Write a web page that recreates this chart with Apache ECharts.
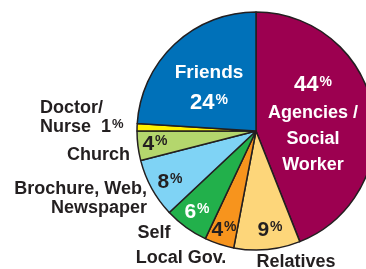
<!DOCTYPE html>
<html><head><meta charset="utf-8">
<script src="https://cdn.jsdelivr.net/npm/echarts@6/dist/echarts.min.js"></script>
<style>html,body{margin:0;padding:0;background:#fff}#c{width:366px;height:269px}</style>
</head><body><div id="c"></div>
<script>
const categories = ['Agencies / Social Worker','Relatives','Local Gov.','Self','Brochure, Web, Newspaper','Church','Doctor/ Nurse','Friends'];
const values = [44, 9, 4, 6, 8, 4, 1, 24];
const colors = ['#9c0050','#fdd67a','#f7941d','#22b04b','#7fd3f5','#b4d66d','#fff200','#0071b9'];
const innerTextColors = ['#fff','#231f20','#231f20','#fff','#231f20','#231f20','#231f20','#fff'];

const FONT = '"Liberation Sans", Arial, sans-serif';
const dark = '#231f20';

// inner label anchor (center) positions
const innerPos = [[313,124],[270,230],[224,230],[197,212],[170,182],[155,144],null,[209,88]];
// outer label anchors
const outerPos = [null,[296,262,'center'],[181,258,'center'],[154,233,'center'],[147,199,'right'],[130,155,'right'],[40,118,'left'],null];

function pctRich(color){
  return {
    n:{fontSize:21,fontWeight:'bold',color:color,fontFamily:FONT,lineHeight:26},
    p:{fontSize:14,fontWeight:'bold',color:color,fontFamily:FONT,padding:[0,0,5,1]},
    N:{fontSize:22,fontWeight:'bold',color:color,fontFamily:FONT,lineHeight:30},
    P:{fontSize:14,fontWeight:'bold',color:color,fontFamily:FONT,padding:[0,0,6,1]},
    w:{fontSize:18,fontWeight:'bold',color:color,fontFamily:FONT,lineHeight:26},
    f:{fontSize:19,fontWeight:'bold',color:color,fontFamily:FONT,lineHeight:30}
  };
}

const innerData = values.map((v,i)=>{
  let fmt;
  if (i===0) fmt = '{N|'+v+'}{P|%}\n{w|Agencies /}\n{w|Social}\n{w|Worker}';
  else if (i===7) fmt = '{f|Friends}\n{N|'+v+'}{P|%}';
  else if (i===6) fmt = '';
  else fmt = '{n|'+v+'}{p|%}';
  return {
    name: categories[i], value: v,
    itemStyle:{color:colors[i]},
    label:{show: i!==6, formatter: fmt, rich: pctRich(innerTextColors[i])}
  };
});

const outerText = [null,'Relatives','Local Gov.','Self','Brochure, Web,\nNewspaper','Church',null,null];
const outerData = values.map((v,i)=>{
  let fmt = '';
  if (i===6) fmt = '{t|Doctor/}\n{t|Nurse  1}{p|%}';
  else if (outerText[i]) fmt = outerText[i].split('\n').map(s=>'{t|'+s+'}').join('\n');
  return {
    name: categories[i], value: v,
    label:{show: !!fmt, formatter: fmt, align: outerPos[i] ? outerPos[i][2] : 'center',
      rich:{
        t:{fontSize:18,fontWeight:'bold',color:dark,fontFamily:FONT,lineHeight:19,align: outerPos[i] ? outerPos[i][2] : 'center'},
        p:{fontSize:13,fontWeight:'bold',color:dark,fontFamily:FONT,padding:[0,0,6,1]}
      }}
  };
});

const chart = echarts.init(document.getElementById('c'), null, {renderer:'canvas'});
chart.setOption({
  animation:false,
  series:[
    {
      type:'pie', center:[256,131], radius:[0,119], startAngle:90, clockwise:true,
      silent:true, avoidLabelOverlap:false,
      itemStyle:{borderColor:dark, borderWidth:1.5},
      label:{position:'inside'},
      labelLine:{show:false},
      labelLayout:function(p){
        const pos = innerPos[p.dataIndex];
        if(!pos) return {};
        return {x:pos[0], y:pos[1], align:'center', verticalAlign:'middle'};
      },
      data: innerData
    },
    {
      type:'pie', center:[256,131], radius:[0,119], startAngle:90, clockwise:true,
      silent:true, avoidLabelOverlap:false,
      itemStyle:{color:'rgba(0,0,0,0)', borderWidth:0},
      label:{position:'inside'},
      labelLine:{show:false},
      labelLayout:function(p){
        const pos = outerPos[p.dataIndex];
        if(!pos) return {};
        return {x:pos[0], y:pos[1], align:pos[2], verticalAlign:'middle'};
      },
      data: outerData
    }
  ]
});
</script>
</body></html>
